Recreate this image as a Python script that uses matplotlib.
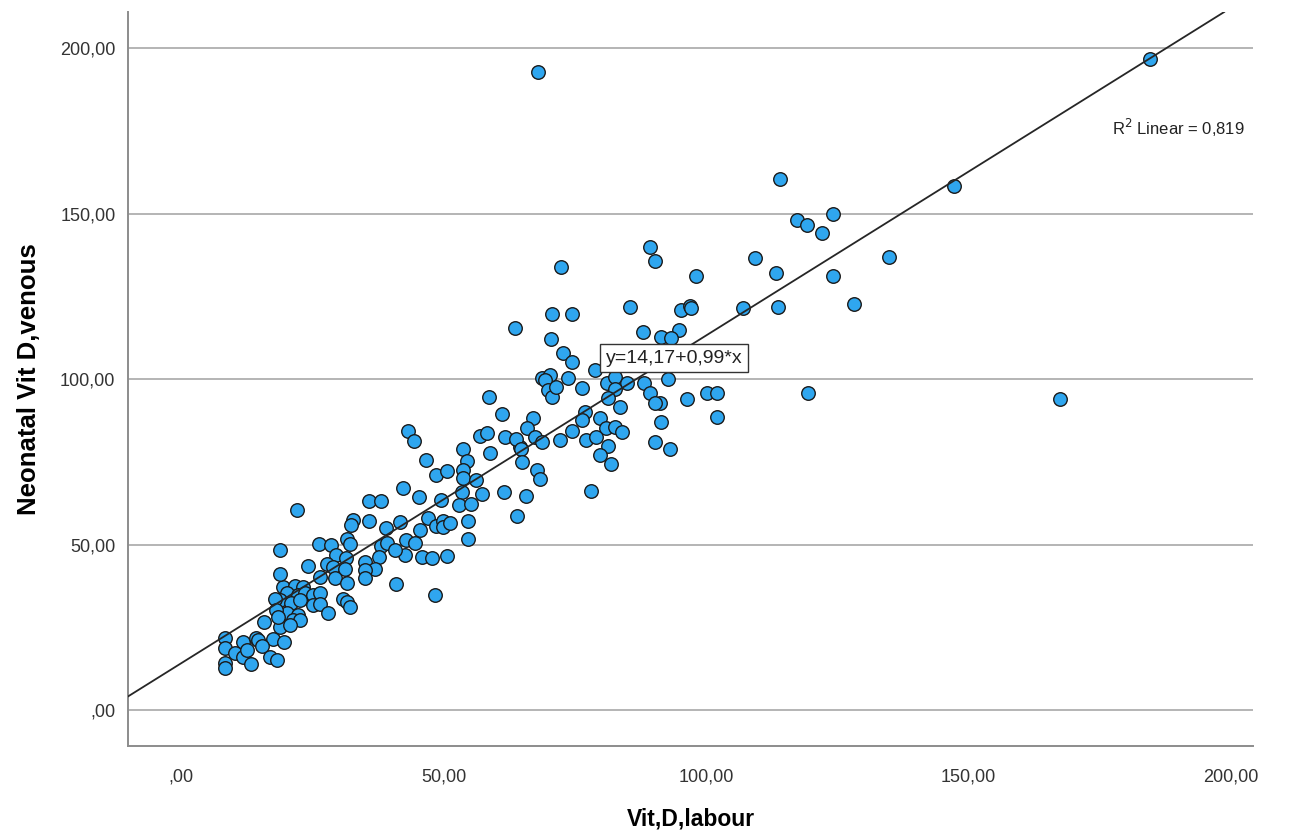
import numpy as np
import matplotlib
matplotlib.use('Agg')
import matplotlib.pyplot as plt

# Vit D labour (x) vs neonatal venous Vit D (y)
labour = [
    67.9, 184.5, 114.1, 147.3, 117.4, 119.2, 122.0, 124.2, 124.2, 89.3,
    90.2, 72.3, 98.1, 109.4, 113.3, 134.9, 128.2, 113.7, 107.1, 95.3,
    97.0, 97.2, 94.9, 91.5, 93.4, 92.8, 91.2, 96.4, 100.1, 102.0,
    119.5, 102.0, 91.5, 167.5, 85.5, 70.6, 74.4, 70.4, 87.9, 72.8,
    74.4, 78.8, 68.7, 70.2, 69.3, 73.7, 69.9, 70.6, 71.5, 76.4,
    81.2, 82.6, 85.0, 88.1, 82.6, 81.3, 89.3, 90.2, 83.6, 76.9,
    76.3, 79.8, 67.1, 65.8, 67.4, 68.7, 64.5, 72.1, 74.4, 81.0,
    82.6, 83.9, 77.2, 79.1, 81.3, 79.8, 90.2, 93.1, 81.9, 78.0,
    63.6, 58.6, 61.2, 43.2, 44.3, 56.9, 58.2, 61.7, 63.8, 53.6,
    58.8, 64.7, 65.0, 54.4, 46.6, 48.6, 50.7, 53.6, 53.7, 56.1,
    67.7, 68.3, 42.3, 53.4, 57.3, 61.5, 65.7, 45.3, 49.5, 53.0,
    55.3, 63.9, 47.0, 48.5, 49.8, 49.9, 51.3, 54.7, 41.7, 45.5,
    42.9, 44.5, 54.6, 42.6, 45.8, 47.7, 50.6, 35.8, 38.0, 22.0,
    32.8, 32.4, 35.8, 39.1, 18.8, 26.3, 28.6, 31.5, 32.1, 29.5,
    31.4, 38.0, 39.2, 40.7, 37.7, 24.2, 27.7, 28.9, 31.2, 35.0,
    36.9, 35.0, 26.4, 29.3, 31.5, 35.0, 41.0, 48.3, 19.4, 21.6,
    23.2, 20.1, 22.3, 23.6, 25.1, 26.4, 30.8, 31.5, 32.1, 18.8,
    21.0, 22.6, 25.1, 26.4, 20.1, 22.3, 21.3, 22.6, 28.0, 18.8,
    20.7, 18.9, 17.8, 18.1, 15.7, 18.4, 8.3, 11.7, 14.2, 14.6,
    17.5, 8.3, 10.3, 11.7, 12.6, 15.4, 17.0, 18.3, 13.3, 8.3,
    8.3, 19.6,
]
venous = [
    192.7, 196.7, 160.4, 158.4, 148.0, 146.5, 144.2, 149.8, 131.2, 140.0,
    135.6, 133.8, 131.1, 136.5, 132.1, 136.8, 122.6, 121.8, 121.4, 120.8,
    122.1, 121.4, 114.8, 112.8, 112.3, 99.9, 92.7, 94.0, 95.7, 95.7,
    95.7, 88.6, 87.1, 94.0, 121.8, 119.8, 119.8, 112.0, 114.1, 107.8,
    105.2, 102.7, 100.2, 101.3, 99.7, 100.2, 96.7, 94.7, 97.5, 97.2,
    98.9, 100.7, 98.9, 98.9, 96.9, 94.2, 95.7, 92.8, 91.6, 90.1,
    87.6, 88.1, 88.1, 85.1, 82.6, 81.1, 79.5, 81.6, 84.3, 85.1,
    85.6, 84.1, 81.6, 82.6, 79.8, 77.0, 81.1, 79.0, 74.3, 66.3,
    115.4, 94.6, 89.4, 84.4, 81.4, 82.8, 83.6, 82.6, 81.8, 79.0,
    77.7, 78.8, 75.0, 75.3, 75.5, 71.0, 72.2, 72.5, 70.2, 69.5,
    72.5, 69.7, 67.0, 66.0, 65.2, 66.0, 64.7, 64.3, 63.4, 61.9,
    62.4, 58.7, 57.9, 55.6, 57.2, 55.4, 56.4, 57.2, 56.9, 54.4,
    51.4, 50.5, 51.6, 46.8, 46.3, 45.8, 46.5, 63.2, 63.2, 60.4,
    57.4, 55.9, 57.1, 54.9, 48.3, 50.2, 50.0, 51.6, 50.2, 46.8,
    45.8, 49.5, 50.4, 48.5, 46.3, 43.5, 44.1, 43.3, 42.5, 44.8,
    42.5, 42.3, 40.3, 39.8, 38.3, 39.8, 38.0, 34.7, 37.3, 37.5,
    37.3, 35.3, 34.7, 35.3, 34.7, 35.3, 33.7, 32.7, 31.2, 33.2,
    32.4, 33.2, 31.7, 32.2, 29.2, 28.7, 27.2, 27.2, 29.2, 25.2,
    25.7, 41.1, 33.7, 30.2, 26.7, 28.0, 21.7, 20.6, 21.7, 21.1,
    21.4, 18.9, 17.1, 16.1, 18.3, 19.3, 16.1, 15.1, 13.9, 14.1,
    12.6, 20.6,
]

intercept = 14.17
slope = 0.99

xticks = [0, 50, 100, 150, 200]
yticks = [0, 50, 100, 150, 200]
tickLabels = [',00', '50,00', '100,00', '150,00', '200,00']

plt.rcParams['font.family'] = ['Liberation Sans', 'DejaVu Sans']

fig = plt.figure(figsize=(12.89, 8.30), dpi=100)
ax = fig.add_axes([0.0993, 0.101, 0.8727, 0.8845])

ax.set_xlim(-10.15, 204.2)
ax.set_ylim(-10.9, 210.9)

for t in yticks:
    ax.axhline(t, color='#b4b4b4', lw=1.4, zorder=1)

ax.scatter(labour, venous, s=95, c='#2fa6ef', edgecolors='#1a1a1a',
           linewidths=1.0, zorder=2)

ax.axline((0, intercept), slope=slope, color='#262626', lw=1.3, zorder=3)

ax.text(93.9, 106.3, 'y=14,17+0,99*x', ha='center', va='center', fontsize=14,
        color='#222222', zorder=4,
        bbox=dict(boxstyle='square,pad=0.28', fc='white', ec='#333333', lw=1.0))
ax.text(177.3, 175.8, 'R$^2$ Linear = 0,819', ha='left', va='center',
        fontsize=12, color='#222222', zorder=4)

ax.set_xticks(xticks)
ax.set_xticklabels(tickLabels)
ax.set_yticks(yticks)
ax.set_yticklabels(tickLabels)
ax.tick_params(axis='both', length=0, labelsize=13, colors='#333333')
ax.tick_params(axis='x', pad=16)
ax.tick_params(axis='y', pad=9)

for side in ['top', 'right']:
    ax.spines[side].set_visible(False)
for side in ['left', 'bottom']:
    ax.spines[side].set_color('#8c8c8c')
    ax.spines[side].set_linewidth(1.4)

ax.set_xlabel('Vit,D,labour', fontsize=16.5, fontweight='bold')
ax.set_ylabel('Neonatal Vit D,venous', fontsize=18.5, fontweight='bold')
ax.xaxis.set_label_coords(0.5, -0.083)
ax.yaxis.set_label_coords(-0.077, 0.5)

fig.savefig('out.png', dpi=100)
plt.close()
